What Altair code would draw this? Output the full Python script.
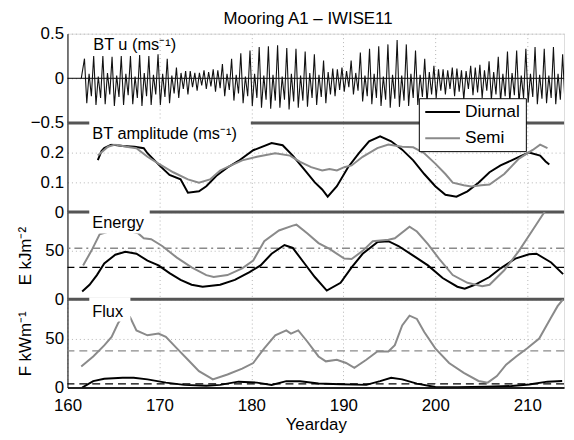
import altair as alt
import pandas as pd

FONT = "Liberation Sans"
GRAY = "#8a8a8a"
GRID = "#b4b4b4"
EDGE = "#555555"

TITLE = "Mooring A1 – IWISE11"
SERIES = ["Diurnal", "Semi"]
X_TICKS = [160, 170, 180, 190, 200, 210]
X_GRID = [170, 180, 190, 200, 210]

# ---------------- BT u (barotropic velocity), one day = peak, trough, bump, trough
U_START_DAY = [161.5]
U_START_VAL = [0.0]
U_FIRST_PEAK = 161.85
U_PEAK = [0.22, 0.25, 0.25, 0.24, 0.25, 0.25, 0.26, 0.25, 0.27, 0.22,
          0.12, 0.08, 0.06, 0.09, 0.10, 0.16, 0.22, 0.28, 0.31, 0.35,
          0.36, 0.37, 0.34, 0.33, 0.30, 0.27, 0.20, 0.11, 0.12, 0.20,
          0.29, 0.33, 0.36, 0.38, 0.43, 0.38, 0.31, 0.22, 0.14, 0.10,
          0.12, 0.09, 0.14, 0.15, 0.19, 0.24, 0.30, 0.31, 0.33, 0.35,
          0.33, 0.35, 0.27]
U_TROUGH_A = [-0.28, -0.30, -0.29, -0.31, -0.30, -0.29, -0.31, -0.30, -0.30, -0.28,
              -0.22, -0.18, -0.14, -0.12, -0.15, -0.20, -0.25, -0.28, -0.31, -0.33,
              -0.34, -0.33, -0.35, -0.33, -0.32, -0.30, -0.28, -0.20, -0.15, -0.18,
              -0.26, -0.29, -0.31, -0.33, -0.32, -0.31, -0.30, -0.27, -0.22, -0.18,
              -0.20, -0.24, -0.19, -0.22, -0.24, -0.26, -0.27, -0.28, -0.27, -0.29,
              -0.28, -0.29, -0.27]
U_BUMP = [0.05, 0.02, 0.06, 0.03, 0.05, 0.02, 0.06, 0.04, 0.05, 0.03,
          0.06, 0.08, 0.06, 0.07, 0.09, 0.05, 0.04, 0.02, 0.05, 0.03,
          0.04, 0.02, 0.05, 0.03, 0.06, 0.04, 0.07, 0.10, 0.08, 0.06,
          0.03, 0.05, 0.02, 0.04, 0.03, 0.05, 0.04, 0.07, 0.10, 0.09,
          0.11, 0.08, 0.12, 0.09, 0.07, 0.05, 0.06, 0.03, 0.05, 0.04,
          0.03, 0.05, 0.04]
U_TROUGH_B = [-0.20, -0.22, -0.18, -0.21, -0.19, -0.22, -0.20, -0.18, -0.21, -0.17,
              -0.12, -0.10, -0.08, -0.09, -0.11, -0.13, -0.17, -0.20, -0.22, -0.24,
              -0.25, -0.24, -0.26, -0.25, -0.22, -0.21, -0.18, -0.13, -0.10, -0.14,
              -0.20, -0.22, -0.24, -0.23, -0.25, -0.22, -0.21, -0.18, -0.14, -0.12,
              -0.15, -0.12, -0.16, -0.14, -0.18, -0.20, -0.19, -0.22, -0.21, -0.23,
              -0.22, -0.24, -0.22]

# ---------------- BT amplitude
AMP_D_DAY = [163.3, 163.7, 164.0, 164.8, 166.0, 167.3, 168.3, 168.7, 170.0, 171.1,
             172.3, 173.1, 174.3, 175.1, 176.2, 177.4, 178.6, 180.2, 182.2, 183.4,
             184.5, 185.7, 186.9, 187.7, 188.3, 189.3, 190.5, 191.7, 192.8, 194.0,
             195.2, 196.4, 197.6, 198.8, 200.0, 201.1, 202.3, 203.5, 204.7, 205.9,
             207.1, 208.3, 209.4, 210.2, 211.4, 212.0, 212.4]
AMP_D = [0.175, 0.205, 0.215, 0.227, 0.222, 0.220, 0.215, 0.198, 0.157, 0.125,
         0.110, 0.065, 0.070, 0.087, 0.122, 0.150, 0.172, 0.208, 0.232, 0.225,
         0.190, 0.145, 0.100, 0.076, 0.052, 0.087, 0.150, 0.198, 0.238, 0.255,
         0.238, 0.210, 0.174, 0.128, 0.087, 0.058, 0.052, 0.070, 0.099, 0.134,
         0.157, 0.174, 0.190, 0.200, 0.190, 0.170, 0.160]
AMP_S_DAY = [163.3, 164.4, 165.2, 166.4, 167.5, 168.7, 169.9, 171.5, 173.1, 174.3,
             175.5, 176.6, 177.8, 179.0, 180.6, 182.6, 184.2, 185.3, 186.5, 187.7,
             188.5, 189.3, 190.1, 190.9, 192.1, 193.7, 194.9, 196.4, 197.6, 198.8,
             200.0, 201.1, 201.9, 203.1, 203.9, 205.0, 205.9, 207.5, 209.1, 210.6,
             211.4, 212.2]
AMP_S = [0.190, 0.220, 0.227, 0.220, 0.215, 0.186, 0.163, 0.134, 0.110, 0.099,
         0.110, 0.140, 0.157, 0.174, 0.186, 0.198, 0.190, 0.169, 0.151, 0.140,
         0.145, 0.140, 0.151, 0.157, 0.186, 0.215, 0.227, 0.220, 0.218, 0.198,
         0.163, 0.128, 0.099, 0.090, 0.086, 0.090, 0.093, 0.128, 0.180, 0.209,
         0.227, 0.215]

# ---------------- Energy (kJ m^-2)
E_D_DAY = [161.6, 162.4, 163.2, 164.0, 165.2, 166.3, 167.5, 168.7, 169.9, 171.1,
           172.3, 173.5, 174.7, 176.6, 178.2, 179.8, 181.0, 182.2, 183.6, 184.5,
           185.7, 186.9, 188.2, 189.7, 190.9, 192.1, 193.7, 194.9, 196.0, 197.6,
           199.2, 200.8, 202.4, 203.2, 204.3, 205.9, 207.1, 208.7, 210.2, 211.0,
           212.6, 213.9]
E_D = [8, 15, 25, 37, 46, 49, 47, 40, 35, 27,
       20, 15, 13, 15, 20, 28, 35, 47, 56, 53,
       38, 23, 9, 17, 33, 47, 59, 60, 55, 45,
       35, 22, 13, 11, 15, 23, 32, 42, 46.5, 47,
       38, 26]
E_S_DAY = [161.7, 162.6, 163.5, 165.6, 167.7, 168.3, 169.1, 170.3, 171.9, 173.5,
           175.1, 175.9, 177.4, 179.0, 180.2, 181.4, 183.0, 184.5, 184.9, 186.1,
           187.3, 188.5, 190.1, 190.9, 192.1, 193.2, 194.9, 195.6, 197.2, 198.0,
           199.2, 200.4, 201.9, 203.5, 205.1, 205.9, 207.5, 209.1, 210.7, 211.8,
           212.4]
E_S = [35, 50, 67, 73, 68, 63, 62, 55, 43, 33,
       25, 23, 25, 32, 40, 60, 71, 76, 77, 68,
       58, 52, 42, 41.5, 50, 60, 61.5, 63, 75, 70,
       57, 42, 25, 17, 13.5, 15, 30, 50, 73, 89,
       98]
E_MEAN = [33.0, 52.7]   # Diurnal, Semi

# ---------------- Flux (kW m^-1)
F_D_DAY = [161.6, 162.8, 164.0, 166.0, 167.2, 168.7, 170.7, 172.7, 175.1, 176.6,
           178.6, 180.6, 182.2, 183.8, 185.3, 187.3, 189.7, 192.5, 194.0, 195.2,
           196.4, 198.0, 200.0, 202.4, 205.5, 208.3, 210.2, 212.2, 213.8]
F_D = [0.0, 6.5, 9.0, 10.0, 10.0, 8.3, 5.0, 2.7, 1.7, 2.7,
       6.0, 5.0, 2.7, 6.5, 6.5, 4.0, 3.3, 2.7, 6.5, 10.0,
       8.3, 4.0, 0.5, 0.3, 0.8, 1.5, 3.0, 6.0, 6.7]
F_S_DAY = [161.5, 162.8, 164.0, 164.8, 165.5, 166.2, 166.8, 167.5, 168.7, 169.9,
           170.7, 171.9, 173.1, 174.3, 175.5, 175.8, 177.4, 179.0, 180.2, 181.4,
           182.6, 183.8, 184.3, 185.1, 186.1, 187.3, 188.1, 189.3, 190.3, 191.2,
           192.5, 193.7, 194.9, 195.6, 196.4, 197.2, 198.0, 198.8, 200.0, 201.5,
           203.1, 204.7, 205.7, 206.7, 207.7, 208.8, 210.0, 211.3, 212.5, 213.3,
           213.9]
F_S = [21.5, 31.7, 43.0, 51.7, 65.6, 75.0, 72.0, 58.3, 53.3, 55.0,
       51.7, 40.0, 28.3, 16.7, 10.0, 8.3, 13.3, 19.3, 25.0, 40.0,
       53.3, 58.3, 55.0, 58.3, 46.7, 31.7, 26.7, 28.3, 25.0, 20.0,
       28.3, 36.7, 36.7, 43.3, 63.3, 73.3, 70.0, 56.7, 40.0, 25.0,
       15.0, 6.7, 5.0, 11.7, 23.3, 31.7, 40.0, 50.0, 70.0, 83.0,
       90.0]
F_MEAN = [3.7, 37.3]    # Diurnal, Semi

# ---------------- build tables
u_day = list(U_START_DAY)
u_val = list(U_START_VAL)
for k in range(len(U_PEAK)):
    for j, arr in enumerate((U_PEAK, U_TROUGH_A, U_BUMP, U_TROUGH_B)):
        u_day.append(U_FIRST_PEAK + k + 0.25 * j)
        u_val.append(arr[k])


def df(days, vals):
    return pd.DataFrame({"day": days, "val": vals})


one = pd.DataFrame({"k": [0]})
W = 501
XDOM = [160, 214]


def xenc(bottom):
    if bottom:
        ax = alt.Axis(values=X_TICKS, grid=True, gridDash=[1, 3], gridColor=GRID,
                      ticks=False, tickSize=0, domain=True, domainColor="#222222",
                      domainWidth=2, labelFontSize=17, labelPadding=10,
                      labelFlush=False, labelOverlap=False, labelColor="black",
                      title="Yearday", titleFontSize=17, titleFontWeight="normal",
                      titleColor="black", titlePadding=3)
    else:
        ax = alt.Axis(values=X_GRID, grid=True, gridDash=[1, 3], gridColor=GRID,
                      labels=False, ticks=False, domain=False, title=None)
    return alt.X("day:Q", scale=alt.Scale(domain=XDOM, nice=False, zero=False), axis=ax)


def yenc(domain, values, title=None):
    kw = dict(values=values, grid=True, gridDash=[1, 3], gridColor=GRID,
              ticks=False, tickSize=0, domain=True, domainColor="black",
              domainWidth=1, labelFontSize=17, labelPadding=4, labelColor="black",
              labelExpr="format(datum.value, '.1~f')", minExtent=24, maxExtent=24)
    if title:
        kw.update(title=title, titleFontSize=17, titleFontWeight="normal",
                  titleColor="black", titlePadding=9)
    else:
        kw.update(title=None)
    return alt.Y("val:Q", scale=alt.Scale(domain=domain, nice=False, zero=False),
                 axis=alt.Axis(**kw))


def line(data, color, width, bottom, y):
    return alt.Chart(data).mark_line(color=color, strokeWidth=width, clip=True).encode(
        x=xenc(bottom), y=y)


def hrule(val, color, width, dash, y):
    base = alt.Chart(pd.DataFrame({"val": [val]}))
    if dash:
        r = base.mark_rule(color=color, strokeWidth=width, strokeDash=dash)
    else:
        r = base.mark_rule(color=color, strokeWidth=width)
    return r.encode(y=y)


def top_edge():
    return alt.Chart(one).mark_rule(color=EDGE, strokeWidth=3).encode(y=alt.value(0))


def box(x1, x2, y1, y2, stroke=False):
    kw = dict(fill="white")
    if stroke:
        kw.update(stroke="black", strokeWidth=1)
    return alt.Chart(one).mark_rect(**kw).encode(
        x=alt.value(x1), x2=alt.value(x2), y=alt.value(y1), y2=alt.value(y2))


def label(text, x, y, size=16.5):
    return alt.Chart(one).mark_text(text=text, align="left", baseline="middle",
                                    font=FONT, fontSize=size, color="black").encode(
        x=alt.value(x), y=alt.value(y))


# Panel 1
y1 = yenc([-0.5, 0.5], [-0.5, 0, 0.5])
p1 = alt.layer(
    hrule(0.0, "black", 1, None, y1),
    alt.Chart(df(u_day, u_val)).mark_line(color="#111111", strokeWidth=1.1, clip=True)
    .encode(x=xenc(False), y=y1),
    label("BT u (ms⁻¹)", 26, 11.5),
).properties(width=W, height=90)

# Panel 2
y2 = yenc([0, 0.3], [0, 0.1, 0.2])
p2 = alt.layer(
    top_edge(),
    line(df(AMP_D_DAY, AMP_D), "black", 2, False, y2),
    line(df(AMP_S_DAY, AMP_S), GRAY, 2, False, y2),
    box(22, 185, -2.5, 21),
    label("BT amplitude (ms⁻¹)", 25, 11),
    box(355, 463, -24.4, 29, stroke=True),
    alt.Chart(one).mark_rule(color="black", strokeWidth=2).encode(
        x=alt.value(361), x2=alt.value(396), y=alt.value(-11)),
    alt.Chart(one).mark_rule(color=GRAY, strokeWidth=2).encode(
        x=alt.value(361), x2=alt.value(396), y=alt.value(15.6)),
    label(SERIES[0], 401, -11, 17.5),
    label(SERIES[1], 401, 15.6, 17.5),
).properties(width=W, height=90)

# Panel 3
y3 = yenc([0, 90], [0, 50], "E kJm⁻²")
p3 = alt.layer(
    top_edge(),
    hrule(E_MEAN[0], "black", 1.3, [8, 5], y3),
    hrule(E_MEAN[1], GRAY, 1.3, [8, 4, 2, 4], y3),
    line(df(E_D_DAY, E_D), "black", 2, False, y3),
    line(df(E_S_DAY, E_S), GRAY, 2, False, y3),
    box(22, 83, -2, 21.5),
    label("Energy", 25, 11.3),
).properties(width=W, height=88)

# Panel 4
y4 = yenc([0, 90], [0, 50], "F kWm⁻¹")
p4 = alt.layer(
    top_edge(),
    hrule(F_MEAN[0], "black", 1.3, [8, 5], y4),
    hrule(F_MEAN[1], GRAY, 1.3, [8, 5], y4),
    line(df(F_D_DAY, F_D), "black", 2, True, y4),
    line(df(F_S_DAY, F_S), GRAY, 2, True, y4),
    box(22, 63.5, -2, 22.5),
    label("Flux", 25, 13.3),
).properties(width=W, height=89)

chart = alt.vconcat(
    p1, p2, p3, p4, spacing=0, bounds="flush",
    title=alt.Title(TITLE, fontSize=17, font=FONT, fontWeight="normal",
                    color="black", offset=-4, anchor="middle", dx=17),
).properties(
    padding={"left": 8, "top": 0, "right": 0, "bottom": 2}
).configure_view(stroke=None).configure_axis(
    labelFont=FONT, titleFont=FONT
).configure(background="white")

chart.save("out.html", embed_options={"renderer": "svg", "actions": False})
